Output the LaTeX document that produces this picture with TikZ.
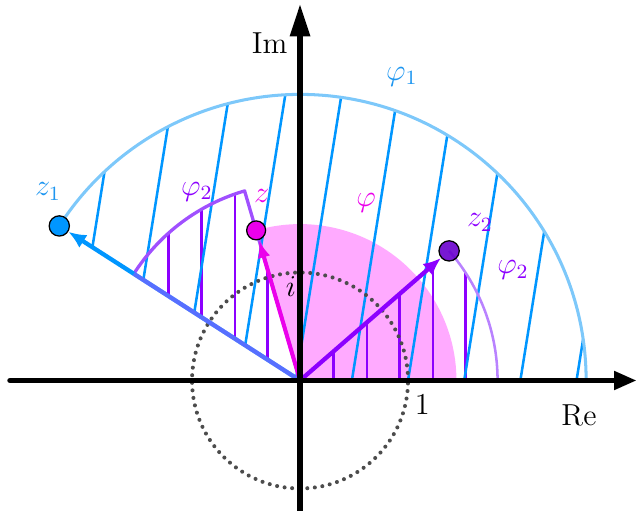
\documentclass[tikz,border=0pt]{standalone}
\usetikzlibrary{arrows.meta}
\definecolor{hatchblue}{RGB}{0,150,255}
\definecolor{arcblue}{RGB}{125,200,250}
\definecolor{labelblue}{RGB}{30,150,240}
\definecolor{pinkfill}{RGB}{255,170,255}
\definecolor{zmag}{RGB}{235,0,235}
\definecolor{violetline}{RGB}{140,0,255}
\definecolor{violetarc}{RGB}{185,130,255}
\definecolor{violetedge}{RGB}{160,80,255}
\definecolor{zdark}{RGB}{105,0,205}

\begin{document}
\begin{tikzpicture}[x=1.5cm,y=1.5cm,
    pt/.style={circle,draw=black,line width=0.5pt,minimum size=8pt,inner sep=0pt},
    lbl/.style={font=\large},
    hatch/.style={hatchblue,line width=1pt},
    vhatch/.style={violetline,line width=1pt},
    axis/.style={line width=2.2pt,line cap=round}]
    \pgfmathsetmacro{\ra}{2.649}
    \pgfmathsetmacro{\aa}{147.3}
    \pgfmathsetmacro{\rb}{1.829}
    \pgfmathsetmacro{\ab}{41}
    \pgfmathsetmacro{\rz}{\ra/\rb}
    \pgfmathsetmacro{\az}{\aa-\ab}
    \useasboundingbox (-2.778,-1.208) rectangle (3.120,3.523);
    \coordinate (O) at (0,0);
    \fill[pinkfill] (O) -- (0:\rz) arc[start angle=0,end angle=\az,radius=\rz] -- cycle;
    \begin{scope}
      \clip (O) -- (0:\rb) arc[start angle=0,end angle=\ab,radius=\rb] -- cycle;
      \foreach \x in {0.31,0.62,0.92,1.23,1.53}
        \draw[vhatch] (\x,0) -- (\x,2);
    \end{scope}
    \begin{scope}
      \clip (O) -- (\az:\rb) arc[start angle=\az,end angle=\aa,radius=\rb] -- cycle;
      \foreach \x in {-0.3,-0.6,-0.91,-1.22}
        \draw[vhatch] (\x,0) -- (\x,2);
    \end{scope}
    \begin{scope}
      \clip (O) -- (0:\ra) arc[start angle=0,end angle=\aa,radius=\ra] -- cycle;
      \foreach \k in {-5,...,5}
        \draw[hatch] (\k*0.52-0.04,0) -- ++(80.9:3);
    \end{scope}
    \draw[gray!60!black,line width=1.6pt,line cap=round,dash pattern=on 0pt off 3pt] (O) circle[radius=1];
    \draw[arcblue,line width=1.2pt] (0:\ra) arc[start angle=0,end angle=\aa,radius=\ra];
    \draw[violetarc,line width=1pt] (\ab:\rb) arc[start angle=\ab,end angle=0,radius=\rb];
    \draw[violetedge,line width=1.3pt,line join=round] (\aa:\rb) arc[start angle=\aa,end angle=\az,radius=\rb] -- (O);
    \node[pt,fill=hatchblue] (z1) at (\aa:\ra) {};
    \node[pt,fill=zdark,fill opacity=0.9] (z2) at (\ab:\rb) {};
    \node[pt,fill=zmag,minimum size=7.5pt] (z) at (\az:\rz) {};
    \draw[hatchblue,line width=1.7pt,-{Latex[length=7pt,width=6pt]}] (O) -- (z1);
    \draw[violetedge,opacity=0.55,line width=1.7pt] (O) -- (\aa:\rb);
    \draw[zmag,line width=1.6pt,-{Latex[length=7pt,width=5pt]}] (O) -- (z);
    \draw[violetline,line width=1.7pt,-{Latex[length=7pt,width=6pt]}] (O) -- (z2);
    \coordinate (xl) at (-2.685,0);
    \coordinate (xr) at (3.118,0);
    \coordinate (yb) at (0,-1.25);
    \coordinate (yt) at (0,3.49);
    \draw[axis,-{Triangle[length=9pt,width=7pt]}] (xl) -- (xr);
    \draw[axis,line width=2.4pt,-{Triangle[length=13pt,width=7.5pt]}] (yb) -- (yt);
    \node[lbl] (im) at (-0.282,3.128) {Im};
    \node[lbl] (re) at (2.583,-0.319) {Re};
    \node[lbl] (one) at (1.132,-0.227) {$1$};
    \node[lbl] (iu) at (-0.083,0.866) {$i$};
    \node[lbl,text=labelblue] (lphi1) at (0.942,2.813) {$\varphi_1$};
    \node[lbl,text=labelblue] (lz1) at (-2.333,1.748) {$z_1$};
    \node[lbl,text=violetline] (lphi2a) at (-0.956,1.748) {$\varphi_2$};
    \node[lbl,text=zmag] (lz) at (-0.355,1.708) {$z$};
    \node[lbl,text=zmag] (lphi) at (0.611,1.646) {$\varphi$};
    \node[lbl,text=violetline] (lz2) at (1.667,1.461) {$z_2$};
    \node[lbl,text=violetline] (lphi2b) at (1.972,1.023) {$\varphi_2$};
\end{tikzpicture}
\end{document}
